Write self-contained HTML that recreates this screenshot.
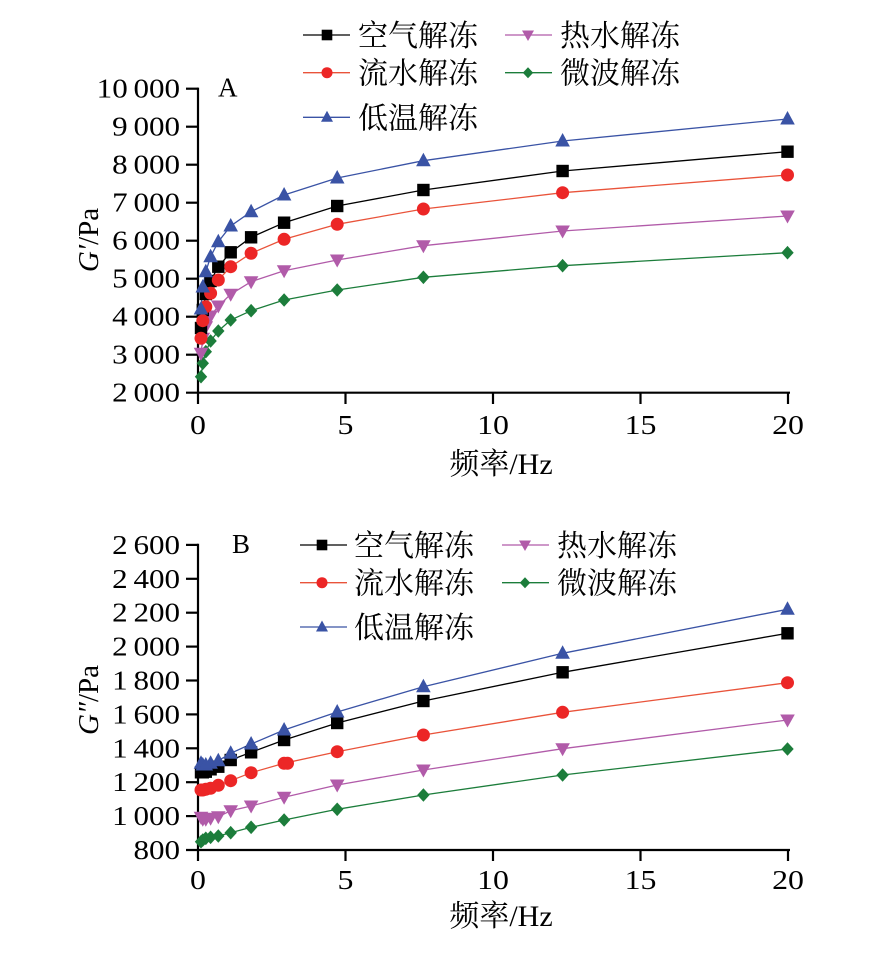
<!DOCTYPE html>
<html><head><meta charset="utf-8">
<style>
html,body{margin:0;padding:0;background:#fff;}
svg{display:block;}
.t{font-family:"Liberation Serif","Noto Serif CJK SC",serif;font-size:27px;fill:#000;}
.c{font-family:"Liberation Serif","Noto Serif CJK SC",serif;font-size:30px;fill:#000;}
</style></head>
<body>
<svg width="871" height="957" viewBox="0 0 871 957" xmlns="http://www.w3.org/2000/svg">
<defs>
<rect id="sq" x="-6.2" y="-6.2" width="12.4" height="12.4" fill="#000"/>
<circle id="ci" r="6.5" fill="#ec2626"/>
<polygon id="tu" points="0,-8 7.3,5.5 -7.3,5.5" fill="#3a53a5"/>
<polygon id="td" points="0,7.5 7.3,-5.5 -7.3,-5.5" fill="#b15ba9"/>
<polygon id="dm" points="0,-6.8 6.2,0 0,6.8 -6.2,0" fill="#1c7d3b"/>
<rect id="sqs" x="-5.3" y="-5.3" width="10.6" height="10.6" fill="#000"/>
<circle id="cis" r="5.5" fill="#ec2626"/>
<polygon id="tus" points="0,-6.5 6,4.5 -6,4.5" fill="#3a53a5"/>
<polygon id="tds" points="0,6 6,-4.5 -6,-4.5" fill="#b15ba9"/>
<polygon id="dms" points="0,-5.5 5.2,0 0,5.5 -5.2,0" fill="#1c7d3b"/>
</defs>

<!-- ================= CHART A ================= -->
<g stroke="#000" stroke-width="2.2" fill="none">
<line x1="198" y1="87.6" x2="198" y2="404"/>
<line x1="186" y1="392.7" x2="790" y2="392.7"/>
<line x1="186" y1="88.7" x2="198" y2="88.7"/>
<line x1="186" y1="126.7" x2="198" y2="126.7"/>
<line x1="186" y1="164.7" x2="198" y2="164.7"/>
<line x1="186" y1="202.7" x2="198" y2="202.7"/>
<line x1="186" y1="240.7" x2="198" y2="240.7"/>
<line x1="186" y1="278.7" x2="198" y2="278.7"/>
<line x1="186" y1="316.7" x2="198" y2="316.7"/>
<line x1="186" y1="354.7" x2="198" y2="354.7"/>
<line x1="345.5" y1="392.7" x2="345.5" y2="404"/>
<line x1="493" y1="392.7" x2="493" y2="404"/>
<line x1="640.5" y1="392.7" x2="640.5" y2="404"/>
<line x1="788" y1="392.7" x2="788" y2="404"/>
</g>
<g class="t" text-anchor="end">
<text transform="translate(180,97.7) scale(1.15,1)">10<tspan dx="5">000</tspan></text>
<text transform="translate(180,135.7) scale(1.15,1)">9<tspan dx="5">000</tspan></text>
<text transform="translate(180,173.7) scale(1.15,1)">8<tspan dx="5">000</tspan></text>
<text transform="translate(180,211.7) scale(1.15,1)">7<tspan dx="5">000</tspan></text>
<text transform="translate(180,249.7) scale(1.15,1)">6<tspan dx="5">000</tspan></text>
<text transform="translate(180,287.7) scale(1.15,1)">5<tspan dx="5">000</tspan></text>
<text transform="translate(180,325.7) scale(1.15,1)">4<tspan dx="5">000</tspan></text>
<text transform="translate(180,363.7) scale(1.15,1)">3<tspan dx="5">000</tspan></text>
<text transform="translate(180,401.7) scale(1.15,1)">2<tspan dx="5">000</tspan></text>
</g>
<g class="t" text-anchor="middle">
<text transform="translate(198,434) scale(1.18,1)">0</text>
<text transform="translate(345.5,434) scale(1.18,1)">5</text>
<text transform="translate(493,434) scale(1.18,1)">10</text>
<text transform="translate(640.5,434) scale(1.18,1)">15</text>
<text transform="translate(788,434) scale(1.18,1)">20</text>
</g>
<text class="c" x="501" y="474" text-anchor="middle">频率/Hz</text>
<text class="t" x="218" y="96.7" style="font-size:27px">A</text>
<text class="t" transform="translate(98,240) rotate(-90)" text-anchor="middle" style="font-size:29px"><tspan font-style="italic">G′</tspan>/Pa</text>

<!-- series lines A -->
<g fill="none" stroke-width="1.3">
<polyline stroke="#1c7d3b" points="201,376.7 202.8,363.3 205.8,351.7 210.6,341 218.3,331 230.7,320 251.1,310.7 284.1,300 337.2,290 423.4,277.3 562.6,265.7 787.5,252.7"/>
<polyline stroke="#b15ba9" points="201,353.3 202.8,338.3 205.8,326.7 210.6,316 218.3,306 230.7,294.3 251.1,281.7 284.1,270.7 337.2,260 423.4,245.7 562.6,231 787.5,216"/>
<polyline stroke="#e9533a" points="201,338.3 202.8,320.7 205.8,306.7 210.6,293.3 218.3,280 230.7,266.7 251.1,253.3 284.1,239.3 337.2,224.3 423.4,209 562.6,192.7 787.5,175"/>
<polyline stroke="#000" points="201,328 202.8,310 205.8,294 210.6,281 218.3,266.7 230.7,252.3 251.1,237.3 284.1,222.7 337.2,206 423.4,190 562.6,171 787.5,151.7"/>
<polyline stroke="#3a53a5" points="201,309 202.8,287 205.8,271.7 210.6,256.7 218.3,241.7 230.7,226 251.1,211.7 284.1,195 337.2,178 423.4,160.7 562.6,141 787.5,119"/>
</g>
<!-- markers A -->
<g>
<use href="#dm" x="201" y="376.7"/><use href="#dm" x="202.8" y="363.3"/><use href="#dm" x="205.8" y="351.7"/><use href="#dm" x="210.6" y="341"/><use href="#dm" x="218.3" y="331"/><use href="#dm" x="230.7" y="320"/><use href="#dm" x="251.1" y="310.7"/><use href="#dm" x="284.1" y="300"/><use href="#dm" x="337.2" y="290"/><use href="#dm" x="423.4" y="277.3"/><use href="#dm" x="562.6" y="265.7"/><use href="#dm" x="787.5" y="252.7"/>
<use href="#td" x="201" y="353.3"/><use href="#td" x="202.8" y="338.3"/><use href="#td" x="205.8" y="326.7"/><use href="#td" x="210.6" y="316"/><use href="#td" x="218.3" y="306"/><use href="#td" x="230.7" y="294.3"/><use href="#td" x="251.1" y="281.7"/><use href="#td" x="284.1" y="270.7"/><use href="#td" x="337.2" y="260"/><use href="#td" x="423.4" y="245.7"/><use href="#td" x="562.6" y="231"/><use href="#td" x="787.5" y="216"/>
<use href="#sq" x="201" y="328"/><use href="#sq" x="202.8" y="310"/><use href="#sq" x="205.8" y="294"/><use href="#sq" x="210.6" y="281"/><use href="#sq" x="218.3" y="266.7"/><use href="#sq" x="230.7" y="252.3"/><use href="#sq" x="251.1" y="237.3"/><use href="#sq" x="284.1" y="222.7"/><use href="#sq" x="337.2" y="206"/><use href="#sq" x="423.4" y="190"/><use href="#sq" x="562.6" y="171"/><use href="#sq" x="787.5" y="151.7"/>
<use href="#ci" x="201" y="338.3"/><use href="#ci" x="202.8" y="320.7"/><use href="#ci" x="205.8" y="306.7"/><use href="#ci" x="210.6" y="293.3"/><use href="#ci" x="218.3" y="280"/><use href="#ci" x="230.7" y="266.7"/><use href="#ci" x="251.1" y="253.3"/><use href="#ci" x="284.1" y="239.3"/><use href="#ci" x="337.2" y="224.3"/><use href="#ci" x="423.4" y="209"/><use href="#ci" x="562.6" y="192.7"/><use href="#ci" x="787.5" y="175"/>
<use href="#tu" x="201" y="309"/><use href="#tu" x="202.8" y="287"/><use href="#tu" x="205.8" y="271.7"/><use href="#tu" x="210.6" y="256.7"/><use href="#tu" x="218.3" y="241.7"/><use href="#tu" x="230.7" y="226"/><use href="#tu" x="251.1" y="211.7"/><use href="#tu" x="284.1" y="195"/><use href="#tu" x="337.2" y="178"/><use href="#tu" x="423.4" y="160.7"/><use href="#tu" x="562.6" y="141"/><use href="#tu" x="787.5" y="119"/>
</g>
<!-- legend A -->
<g stroke-width="1.3">
<line x1="303" y1="35" x2="350" y2="35" stroke="#000"/><use href="#sqs" x="327" y="35"/>
<line x1="303" y1="72.7" x2="350" y2="72.7" stroke="#e9533a"/><use href="#cis" x="327" y="72.7"/>
<line x1="303" y1="117.3" x2="350" y2="117.3" stroke="#3a53a5"/><use href="#tus" x="327" y="117.3"/>
<line x1="505" y1="35" x2="552" y2="35" stroke="#b15ba9"/><use href="#tds" x="528" y="35"/>
<line x1="505" y1="72.7" x2="552" y2="72.7" stroke="#1c7d3b"/><use href="#dms" x="528" y="72.7"/>
</g>
<g class="c">
<text x="358" y="46">空气解冻</text>
<text x="358" y="83.7">流水解冻</text>
<text x="358" y="128.3">低温解冻</text>
<text x="560" y="46">热水解冻</text>
<text x="560" y="83.7">微波解冻</text>
</g>

<!-- ================= CHART B ================= -->
<g stroke="#000" stroke-width="2.2" fill="none">
<line x1="198" y1="543.8" x2="198" y2="861"/>
<line x1="186" y1="850" x2="790" y2="850"/>
<line x1="186" y1="544.9" x2="198" y2="544.9"/>
<line x1="186" y1="578.8" x2="198" y2="578.8"/>
<line x1="186" y1="612.7" x2="198" y2="612.7"/>
<line x1="186" y1="646.6" x2="198" y2="646.6"/>
<line x1="186" y1="680.5" x2="198" y2="680.5"/>
<line x1="186" y1="714.4" x2="198" y2="714.4"/>
<line x1="186" y1="748.3" x2="198" y2="748.3"/>
<line x1="186" y1="782.2" x2="198" y2="782.2"/>
<line x1="186" y1="816.1" x2="198" y2="816.1"/>
<line x1="345.5" y1="850" x2="345.5" y2="861"/>
<line x1="493" y1="850" x2="493" y2="861"/>
<line x1="640.5" y1="850" x2="640.5" y2="861"/>
<line x1="788" y1="850" x2="788" y2="861"/>
</g>
<g class="t" text-anchor="end">
<text transform="translate(180,553.9) scale(1.15,1)">2<tspan dx="5">600</tspan></text>
<text transform="translate(180,587.8) scale(1.15,1)">2<tspan dx="5">400</tspan></text>
<text transform="translate(180,621.7) scale(1.15,1)">2<tspan dx="5">200</tspan></text>
<text transform="translate(180,655.6) scale(1.15,1)">2<tspan dx="5">000</tspan></text>
<text transform="translate(180,689.5) scale(1.15,1)">1<tspan dx="5">800</tspan></text>
<text transform="translate(180,723.4) scale(1.15,1)">1<tspan dx="5">600</tspan></text>
<text transform="translate(180,757.3) scale(1.15,1)">1<tspan dx="5">400</tspan></text>
<text transform="translate(180,791.2) scale(1.15,1)">1<tspan dx="5">200</tspan></text>
<text transform="translate(180,825.1) scale(1.15,1)">1<tspan dx="5">000</tspan></text>
<text transform="translate(180,859) scale(1.15,1)">800</text>
</g>
<g class="t" text-anchor="middle">
<text transform="translate(198,889) scale(1.18,1)">0</text>
<text transform="translate(345.5,889) scale(1.18,1)">5</text>
<text transform="translate(493,889) scale(1.18,1)">10</text>
<text transform="translate(640.5,889) scale(1.18,1)">15</text>
<text transform="translate(788,889) scale(1.18,1)">20</text>
</g>
<text class="c" x="501" y="926" text-anchor="middle">频率/Hz</text>
<text class="t" x="232" y="553" style="font-size:27px">B</text>
<text class="t" transform="translate(98,700) rotate(-90)" text-anchor="middle" style="font-size:29px"><tspan font-style="italic">G″</tspan>/Pa</text>

<!-- series lines B -->
<g fill="none" stroke-width="1.3">
<polyline stroke="#1c7d3b" points="201,841.7 202.8,840 205.8,838.3 210.6,837.3 218.3,836 230.7,832.7 251.1,827.3 284.1,820 337.2,809.3 423.4,795 562.6,775 787.5,749"/>
<polyline stroke="#b15ba9" points="201,817.3 202.8,819.3 205.8,819.3 210.6,818.3 218.3,816.7 230.7,810.7 251.1,806 284.1,797.3 337.2,785 423.4,770 562.6,748.7 787.5,720"/>
<polyline stroke="#e9533a" points="201,790 202.8,790 205.8,789.3 210.6,788.3 218.3,785.3 230.7,780.7 251.1,772.7 284.1,763.3 337.2,751.7 423.4,735 562.6,712.3 787.5,682.7"/>
<polyline stroke="#000" points="201,772.3 202.8,772.3 205.8,771.7 210.6,769.3 218.3,766.7 230.7,760 251.1,752.3 284.1,740 337.2,723 423.4,701 562.6,672.3 787.5,633.3"/>
<polyline stroke="#3a53a5" points="201,763.3 202.8,765 205.8,765 210.6,763.3 218.3,760.7 230.7,753.3 251.1,744 284.1,730 337.2,712 423.4,686.7 562.6,653.3 787.5,609.3"/>
</g>
<!-- markers B -->
<g>
<use href="#dm" x="201" y="841.7"/><use href="#dm" x="202.8" y="840"/><use href="#dm" x="205.8" y="838.3"/><use href="#dm" x="210.6" y="837.3"/><use href="#dm" x="218.3" y="836"/><use href="#dm" x="230.7" y="832.7"/><use href="#dm" x="251.1" y="827.3"/><use href="#dm" x="284.1" y="820"/><use href="#dm" x="337.2" y="809.3"/><use href="#dm" x="423.4" y="795"/><use href="#dm" x="562.6" y="775"/><use href="#dm" x="787.5" y="749"/>
<use href="#td" x="201" y="817.3"/><use href="#td" x="202.8" y="819.3"/><use href="#td" x="205.8" y="819.3"/><use href="#td" x="210.6" y="818.3"/><use href="#td" x="218.3" y="816.7"/><use href="#td" x="230.7" y="810.7"/><use href="#td" x="251.1" y="806"/><use href="#td" x="284.1" y="797.3"/><use href="#td" x="337.2" y="785"/><use href="#td" x="423.4" y="770"/><use href="#td" x="562.6" y="748.7"/><use href="#td" x="787.5" y="720"/>
<use href="#ci" x="201" y="790"/><use href="#ci" x="202.8" y="790"/><use href="#ci" x="205.8" y="789.3"/><use href="#ci" x="210.6" y="788.3"/><use href="#ci" x="218.3" y="785.3"/><use href="#ci" x="230.7" y="780.7"/><use href="#ci" x="251.1" y="772.7"/><use href="#ci" x="284.1" y="763.3"/><use href="#ci" x="287.5" y="763.3"/><use href="#ci" x="337.2" y="751.7"/><use href="#ci" x="423.4" y="735"/><use href="#ci" x="562.6" y="712.3"/><use href="#ci" x="787.5" y="682.7"/>
<use href="#sq" x="201" y="772.3"/><use href="#sq" x="202.8" y="772.3"/><use href="#sq" x="205.8" y="771.7"/><use href="#sq" x="210.6" y="769.3"/><use href="#sq" x="218.3" y="766.7"/><use href="#sq" x="230.7" y="760"/><use href="#sq" x="251.1" y="752.3"/><use href="#sq" x="284.1" y="740"/><use href="#sq" x="337.2" y="723"/><use href="#sq" x="423.4" y="701"/><use href="#sq" x="562.6" y="672.3"/><use href="#sq" x="787.5" y="633.3"/>
<use href="#tu" x="201" y="763.3"/><use href="#tu" x="202.8" y="765"/><use href="#tu" x="205.8" y="765"/><use href="#tu" x="210.6" y="763.3"/><use href="#tu" x="218.3" y="760.7"/><use href="#tu" x="230.7" y="753.3"/><use href="#tu" x="251.1" y="744"/><use href="#tu" x="284.1" y="730"/><use href="#tu" x="337.2" y="712"/><use href="#tu" x="423.4" y="686.7"/><use href="#tu" x="562.6" y="653.3"/><use href="#tu" x="787.5" y="609.3"/>
</g>
<!-- legend B -->
<g stroke-width="1.3">
<line x1="300" y1="545" x2="347" y2="545" stroke="#000"/><use href="#sqs" x="322" y="545"/>
<line x1="300" y1="582.7" x2="347" y2="582.7" stroke="#e9533a"/><use href="#cis" x="322" y="582.7"/>
<line x1="300" y1="627" x2="347" y2="627" stroke="#3a53a5"/><use href="#tus" x="322" y="627"/>
<line x1="502" y1="545" x2="549" y2="545" stroke="#b15ba9"/><use href="#tds" x="525" y="545"/>
<line x1="502" y1="582.7" x2="549" y2="582.7" stroke="#1c7d3b"/><use href="#dms" x="525" y="582.7"/>
</g>
<g class="c">
<text x="354" y="556">空气解冻</text>
<text x="354" y="593.7">流水解冻</text>
<text x="354" y="638">低温解冻</text>
<text x="557" y="556">热水解冻</text>
<text x="557" y="593.7">微波解冻</text>
</g>
</svg>
</body></html>
